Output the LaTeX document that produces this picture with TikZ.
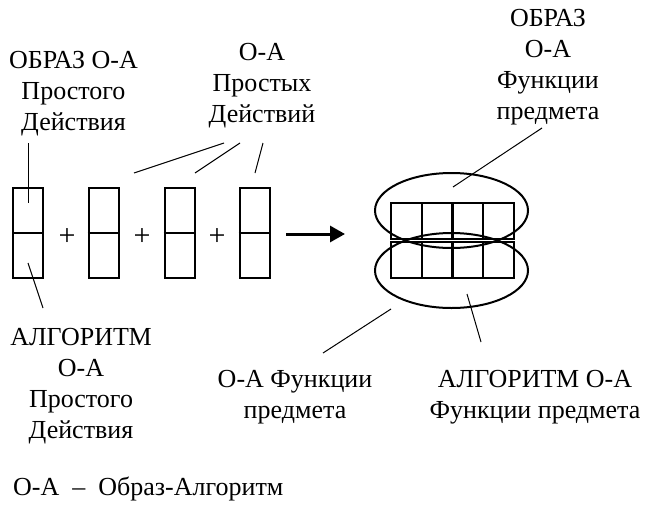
\documentclass[tikz,border=0pt]{standalone}
\usepackage{fontspec}
\setmainfont{Liberation Serif}
\usetikzlibrary{arrows.meta,shapes.geometric}

\begin{document}
\begin{tikzpicture}
  [x=1pt,y=-1pt,
   every node/.style={font=\fontsize{26}{31}\selectfont,inner sep=0pt},
   lbl/.style={align=center,anchor=north},
   actbox/.style={draw,line width=2pt,minimum width=30pt,minimum height=90pt},
   oval/.style={draw,ellipse,line width=2pt,minimum width=153pt,minimum height=75pt},
   lead/.style={line width=1pt}]
  \useasboundingbox (0,0) rectangle (661,506);
  % labels
  \node[lbl] (imgS) at (73.5,51) {ОБРАЗ О-А\\Простого\\Действия};
  \node[lbl] (simpS) at (262,43) {О-А\\Простых\\Действий};
  \node[lbl] (imgF) at (548,9) {ОБРАЗ\\О-А\\Функции\\предмета};
  \node[lbl] (algS) at (81,328) {АЛГОРИТМ\\О-А\\Простого\\Действия};
  \node[lbl] (oaF) at (295,370) {О-А Функции\\предмета};
  \node[lbl] (algF) at (535,370) {АЛГОРИТМ О-А\\Функции предмета};
  \node[anchor=north west] (legend) at (13,477) {О-А\ \ –\ \ Образ-Алгоритм};
  % simple actions
  \node[actbox] (b1) at (28,233) {};
  \node[actbox] (b2) at (103.5,233) {};
  \node[actbox] (b3) at (179.5,233) {};
  \node[actbox] (b4) at (254.5,233) {};
  \foreach \b in {b1,b2,b3,b4}
    \draw[line width=1.5pt] (\b.west) -- (\b.east);
  \foreach \x in {67,142,217}
    \node[font=\fontsize{30}{30}\selectfont] at (\x,237) {+};
  \coordinate (arrS) at (286,234);
  \coordinate (arrE) at (345,234);
  \draw[line width=3pt,-{Triangle[length=15pt,width=16pt]}] (arrS) -- (arrE);
  % function of the object
  \foreach \x in {391,422,452,483} {
    \draw[line width=2pt] (\x,203) rectangle ++(30.5,35.5);
    \draw[line width=2pt] (\x,241.5) rectangle ++(30.5,36.5);
  }
  \node[oval] (upOval) at (451.5,210.5) {};
  \node[oval] (lowOval) at (451.5,270.5) {};
  % leaders
  \coordinate (l1a) at (28,143);
  \coordinate (l1b) at (28,203);
  \coordinate (l2a) at (28,263);
  \coordinate (l2b) at (43,308);
  \coordinate (l3a) at (542,128);
  \coordinate (l3b) at (453,187);
  \coordinate (l4a) at (391,309);
  \coordinate (l4b) at (323,353);
  \coordinate (l5a) at (467,294);
  \coordinate (l5b) at (481,342);
  \draw[lead] (l1a) -- (l1b);
  \draw[lead] (l2a) -- (l2b);
  \draw[lead] (l3a) -- (l3b);
  \draw[lead] (l4a) -- (l4b);
  \draw[lead] (l5a) -- (l5b);
  \foreach \from/\to in {224/134,240/195,263/255}
    \draw[lead] (\from,143) -- (\to,173);
\end{tikzpicture}
\end{document}
